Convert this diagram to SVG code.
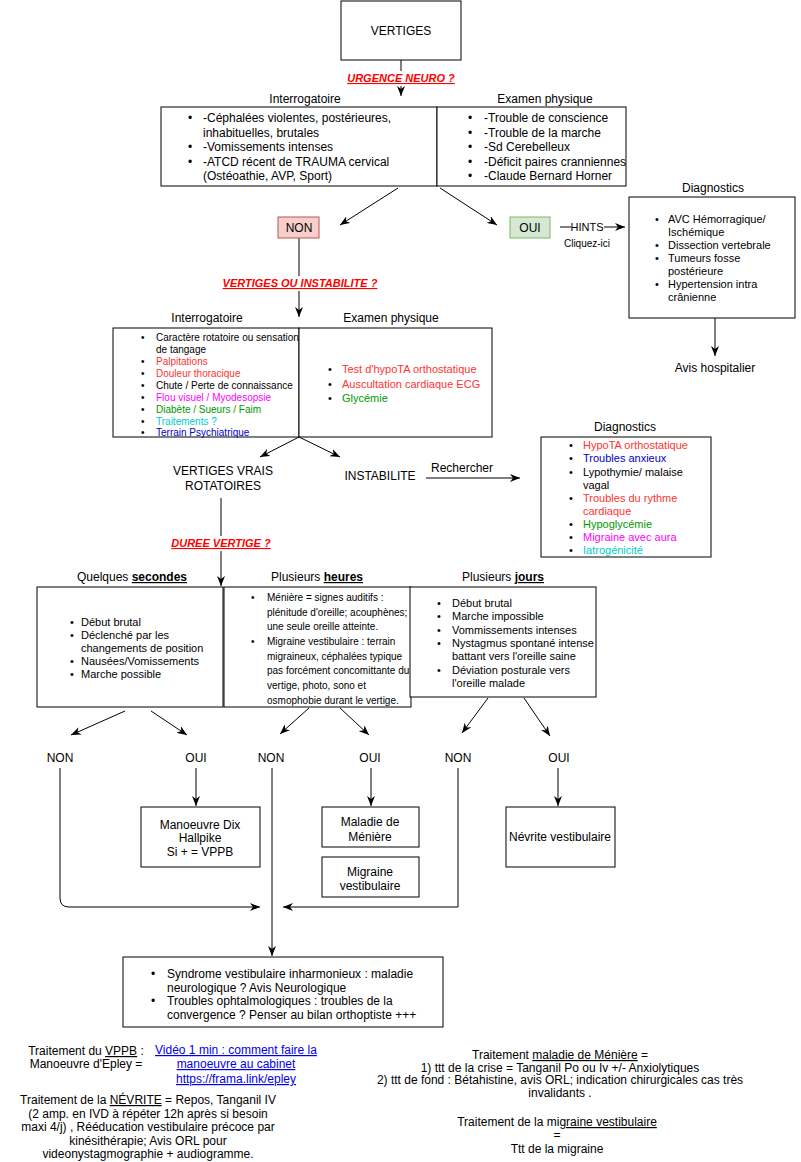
<svg xmlns="http://www.w3.org/2000/svg" width="801" height="1162" viewBox="0 0 801 1162">
<style>
text{font-family:"Liberation Sans",Arial,sans-serif;fill:#000;}
.t12{font-size:12px;}
.t11{font-size:11px;}
.t10{font-size:10px;}
.c{text-anchor:middle;}
.box{fill:#fff;stroke:#000;stroke-width:1;}
.edge{fill:none;stroke:#000;stroke-width:1;}
.q{font-size:11px;font-weight:bold;font-style:italic;fill:#FF0000;text-decoration:underline;text-anchor:middle;}
.bg{fill:#fff;stroke:none;}
.red{fill:#FF3333;}
.grn{fill:#009900;}
.mag{fill:#FF00FF;}
.cya{fill:#00CCCC;}
.blu{fill:#0000CC;}
.lnk{fill:#0000EE;text-decoration:underline;}
.u{text-decoration:underline;}
.bu{font-weight:bold;text-decoration:underline;}
</style>
<defs>
<marker id="arr" viewBox="0 0 10 8" refX="10" refY="4" markerWidth="10" markerHeight="8" markerUnits="userSpaceOnUse" orient="auto">
<path d="M0,0 L10,4 L0,8 L3,4 Z" fill="#000"/>
</marker>
</defs>

<g id="connectors">
<line class="edge" x1="401" y1="60" x2="401" y2="96" marker-end="url(#arr)"/>
<line class="edge" x1="398" y1="188" x2="340" y2="225" marker-end="url(#arr)"/>
<line class="edge" x1="440" y1="188" x2="497" y2="225" marker-end="url(#arr)"/>
<line class="edge" x1="560" y1="227" x2="625" y2="227" marker-end="url(#arr)"/>
<line class="edge" x1="715" y1="318" x2="715" y2="356" marker-end="url(#arr)"/>
<line class="edge" x1="299" y1="238" x2="299" y2="317" marker-end="url(#arr)"/>
<line class="edge" x1="299" y1="437" x2="260" y2="457" marker-end="url(#arr)"/>
<line class="edge" x1="299" y1="437" x2="340" y2="457" marker-end="url(#arr)"/>
<line class="edge" x1="426" y1="478" x2="520" y2="478" marker-end="url(#arr)"/>
<line class="edge" x1="221" y1="498" x2="221" y2="586" marker-end="url(#arr)"/>
<line class="edge" x1="125" y1="711" x2="71" y2="735" marker-end="url(#arr)"/>
<line class="edge" x1="151" y1="711" x2="187" y2="735" marker-end="url(#arr)"/>
<line class="edge" x1="309" y1="708" x2="280" y2="734" marker-end="url(#arr)"/>
<line class="edge" x1="340" y1="708" x2="369" y2="735" marker-end="url(#arr)"/>
<line class="edge" x1="488" y1="698" x2="462" y2="733" marker-end="url(#arr)"/>
<line class="edge" x1="524" y1="698" x2="550" y2="736" marker-end="url(#arr)"/>
<line class="edge" x1="196" y1="768" x2="196" y2="806" marker-end="url(#arr)"/>
<line class="edge" x1="371" y1="768" x2="371" y2="806" marker-end="url(#arr)"/>
<line class="edge" x1="558" y1="768" x2="558" y2="806" marker-end="url(#arr)"/>
<path class="edge" d="M60,768 L60,898 Q60,907 69,907 L260,907" marker-end="url(#arr)"/>
<path class="edge" d="M458,768 L458,907 L283,907" marker-end="url(#arr)"/>
<line class="edge" x1="272" y1="768" x2="272" y2="956" marker-end="url(#arr)"/>
<rect class="bg" x="346" y="71" width="110" height="15"/>
<text class="q" x="401" y="82">URGENCE NEURO ?</text>
<rect class="bg" x="221" y="276" width="158" height="15"/>
<text class="q" x="300" y="287">VERTIGES OU INSTABILITE ?</text>
<rect class="bg" x="170" y="536" width="102" height="15"/>
<text class="q" x="221" y="547">DUREE VERTIGE ?</text>
<rect class="bg" x="571" y="220" width="33" height="14"/>
<text class="t11 c" x="587" y="231">HINTS</text>
<text class="t10 c" x="587" y="247">Cliquez-ici</text>
<text class="t12 c" x="462" y="472">Rechercher</text>
</g>

<g id="vertiges">
<rect class="box" x="341" y="1" width="120" height="59"/>
<text class="t12 c" x="401" y="35">VERTIGES</text>
</g>

<g id="urgence-interrogatoire">
<text class="t12 c" x="305" y="103">Interrogatoire</text>
<rect class="box" x="161" y="107" width="276" height="79"/>
<text class="t12" x="188" y="122">•</text><text class="t12" x="203" y="122">-Céphalées violentes, postérieures,</text>
<text class="t12" x="203" y="136.5">inhabituelles, brutales</text>
<text class="t12" x="188" y="151">•</text><text class="t12" x="203" y="151">-Vomissements intenses</text>
<text class="t12" x="188" y="165.5">•</text><text class="t12" x="203" y="165.5">-ATCD récent de TRAUMA cervical</text>
<text class="t12" x="203" y="180">(Ostéoathie, AVP, Sport)</text>
</g>

<g id="urgence-examen">
<text class="t12 c" x="545" y="103">Examen physique</text>
<rect class="box" x="437" y="107" width="189" height="79"/>
<text class="t12" x="468" y="122">•</text><text class="t12" x="484" y="122">-Trouble de conscience</text>
<text class="t12" x="468" y="136.5">•</text><text class="t12" x="484" y="136.5">-Trouble de la marche</text>
<text class="t12" x="468" y="151">•</text><text class="t12" x="484" y="151">-Sd Cerebelleux</text>
<text class="t12" x="468" y="165.5">•</text><text class="t12" x="484" y="165.5">-Déficit paires cranniennes</text>
<text class="t12" x="468" y="180">•</text><text class="t12" x="484" y="180">-Claude Bernard Horner</text>
</g>

<g id="non1">
<rect x="278" y="217" width="41" height="21" fill="#f8cecc" stroke="#b85450"/>
<text class="t12 c" x="299" y="232">NON</text>
</g>

<g id="oui1">
<rect x="510" y="217" width="40" height="21" fill="#d5e8d4" stroke="#82b366"/>
<text class="t12 c" x="530" y="232">OUI</text>
</g>

<g id="diagnostics1">
<text class="t12 c" x="713" y="192">Diagnostics</text>
<rect class="box" x="629" y="197" width="166" height="121"/>
<text class="t11" x="655" y="223">•</text><text class="t11" x="668" y="223">AVC Hémorragique/</text>
<text class="t11" x="668" y="236">Ischémique</text>
<text class="t11" x="655" y="249">•</text><text class="t11" x="668" y="249">Dissection vertebrale</text>
<text class="t11" x="655" y="262">•</text><text class="t11" x="668" y="262">Tumeurs fosse</text>
<text class="t11" x="668" y="275">postérieure</text>
<text class="t11" x="655" y="288">•</text><text class="t11" x="668" y="288">Hypertension intra</text>
<text class="t11" x="668" y="301">crânienne</text>
</g>

<g id="avis-hospitalier">
<text class="t12 c" x="715" y="372">Avis hospitalier</text>
</g>

<g id="instab-interrogatoire">
<text class="t12 c" x="207" y="322">Interrogatoire</text>
<rect class="box" x="113" y="328" width="186" height="109"/>
<text class="t10" x="141" y="341">•</text><text class="t10" x="156" y="341">Caractère rotatoire ou sensation</text>
<text class="t10" x="156" y="353">de tangage</text>
<text class="t10" x="141" y="365">•</text><text class="t10 red" x="156" y="365">Palpitations</text>
<text class="t10" x="141" y="377">•</text><text class="t10 red" x="156" y="377">Douleur thoracique</text>
<text class="t10" x="141" y="389">•</text><text class="t10" x="156" y="389">Chute / Perte de connaissance</text>
<text class="t10" x="141" y="400.5">•</text><text class="t10 mag" x="156" y="400.5">Flou visuel / Myodesopsie</text>
<text class="t10" x="141" y="412.5">•</text><text class="t10 grn" x="156" y="412.5">Diabète / Sueurs / Faim</text>
<text class="t10" x="141" y="424.5">•</text><text class="t10 cya" x="156" y="424.5">Traitements ?</text>
<text class="t10" x="141" y="436">•</text><text class="t10 blu" x="156" y="436">Terrain Psychiatrique</text>
</g>

<g id="instab-examen">
<text class="t12 c" x="391" y="322">Examen physique</text>
<rect class="box" x="299" y="328" width="193" height="109"/>
<text class="t11" x="328" y="373">•</text><text class="t11 red" x="342" y="373">Test d'hypoTA orthostatique</text>
<text class="t11" x="328" y="388">•</text><text class="t11 red" x="342" y="388">Auscultation cardiaque ECG</text>
<text class="t11" x="328" y="402">•</text><text class="t11 grn" x="342" y="402">Glycémie</text>
</g>

<g id="vertiges-vrais">
<text class="t12 c" x="223" y="475">VERTIGES VRAIS</text>
<text class="t12 c" x="223" y="490">ROTATOIRES</text>
</g>

<g id="instabilite">
<text class="t12 c" x="380" y="480">INSTABILITE</text>
</g>

<g id="diagnostics2">
<text class="t12 c" x="625" y="431">Diagnostics</text>
<rect class="box" x="541" y="437" width="170" height="120"/>
<text class="t11" x="569" y="449">•</text><text class="t11 red" x="583" y="449">HypoTA orthostatique</text>
<text class="t11" x="569" y="462">•</text><text class="t11 blu" x="583" y="462">Troubles anxieux</text>
<text class="t11" x="569" y="476">•</text><text class="t11" x="583" y="476">Lypothymie/ malaise</text>
<text class="t11" x="583" y="489">vagal</text>
<text class="t11" x="569" y="502">•</text><text class="t11 red" x="583" y="502">Troubles du rythme</text>
<text class="t11 red" x="583" y="515">cardiaque</text>
<text class="t11" x="569" y="528">•</text><text class="t11 grn" x="583" y="528">Hypoglycémie</text>
<text class="t11" x="569" y="541">•</text><text class="t11 mag" x="583" y="541">Migraine avec aura</text>
<text class="t11" x="569" y="554">•</text><text class="t11 cya" x="583" y="554">Iatrogénicité</text>
</g>

<g id="secondes">
<text class="t12 c" x="132" y="581">Quelques <tspan class="bu">secondes</tspan></text>
<rect class="box" x="37" y="587" width="186" height="120"/>
<text class="t11" x="70" y="626">•</text><text class="t11" x="81" y="626">Début brutal</text>
<text class="t11" x="70" y="639">•</text><text class="t11" x="81" y="639">Déclenché par les</text>
<text class="t11" x="81" y="652">changements de position</text>
<text class="t11" x="70" y="665">•</text><text class="t11" x="81" y="665">Nausées/Vomissements</text>
<text class="t11" x="70" y="678">•</text><text class="t11" x="81" y="678">Marche possible</text>
</g>

<g id="heures">
<text class="t12 c" x="317" y="581">Plusieurs <tspan class="bu">heures</tspan></text>
<rect class="box" x="224" y="587" width="187" height="120"/>
<text class="t10" x="251" y="601">•</text><text class="t10" x="267" y="601">Ménière = signes auditifs  :</text>
<text class="t10" x="267" y="615.5">plénitude d'oreille; acouphènes;</text>
<text class="t10" x="267" y="630">une seule oreille atteinte.</text>
<text class="t10" x="251" y="645">•</text><text class="t10" x="267" y="645">Migraine vestibulaire : terrain</text>
<text class="t10" x="267" y="659.5">migraineux, céphalées typique</text>
<text class="t10" x="267" y="674">pas forcément concomittante du</text>
<text class="t10" x="267" y="689">vertige, photo, sono et</text>
<text class="t10" x="267" y="703.5">osmophobie durant le vertige.</text>
</g>

<g id="jours">
<text class="t12 c" x="503" y="581">Plusieurs <tspan class="bu">jours</tspan></text>
<rect class="box" x="410" y="587" width="186" height="110"/>
<text class="t11" x="437" y="607">•</text><text class="t11" x="452" y="607">Début brutal</text>
<text class="t11" x="437" y="620">•</text><text class="t11" x="452" y="620">Marche impossible</text>
<text class="t11" x="437" y="634">•</text><text class="t11" x="452" y="634">Vommissements intenses</text>
<text class="t11" x="437" y="647">•</text><text class="t11" x="452" y="647">Nystagmus spontané intense</text>
<text class="t11" x="452" y="660">battant vers l'oreille saine</text>
<text class="t11" x="437" y="674">•</text><text class="t11" x="452" y="674">Déviation posturale vers</text>
<text class="t11" x="452" y="687">l'oreille malade</text>
</g>

<g id="reponses">
<text class="t12 c" x="60" y="762">NON</text>
<text class="t12 c" x="196" y="762">OUI</text>
<text class="t12 c" x="271" y="762">NON</text>
<text class="t12 c" x="370" y="762">OUI</text>
<text class="t12 c" x="458" y="762">NON</text>
<text class="t12 c" x="559" y="762">OUI</text>
</g>

<g id="manoeuvre">
<rect class="box" x="141" y="807" width="119" height="60"/>
<text class="t12 c" x="200" y="829">Manoeuvre Dix</text>
<text class="t12 c" x="200" y="842">Hallpike</text>
<text class="t12 c" x="200" y="856">Si + = VPPB</text>
</g>

<g id="meniere">
<rect class="box" x="322" y="807" width="97" height="40"/>
<text class="t12 c" x="370" y="826">Maladie de</text>
<text class="t12 c" x="370" y="841">Ménière</text>
</g>

<g id="migraine">
<rect class="box" x="322" y="857" width="97" height="40"/>
<text class="t12 c" x="370" y="876">Migraine</text>
<text class="t12 c" x="370" y="890">vestibulaire</text>
</g>

<g id="nevrite">
<rect class="box" x="506" y="807" width="109" height="60"/>
<text class="t12 c" x="560" y="841">Névrite vestibulaire</text>
</g>

<g id="syndrome">
<rect class="box" x="123" y="957" width="320" height="70"/>
<text class="t12" x="151" y="978">•</text><text class="t12" x="167" y="978">Syndrome vestibulaire inharmonieux : maladie</text>
<text class="t12" x="167" y="991.5">neurologique ? Avis Neurologique</text>
<text class="t12" x="151" y="1005">•</text><text class="t12" x="167" y="1005">Troubles ophtalmologiques : troubles de la</text>
<text class="t12" x="167" y="1018.5">convergence ? Penser au bilan orthoptiste +++</text>
</g>

<g id="traitement-vppb">
<text class="t12 c" x="86" y="1055">Traitement du <tspan class="u">VPPB</tspan> :</text>
<text class="t12 c" x="86" y="1068">Manoeuvre d'Epley =</text>
<text class="t12 c lnk" x="236" y="1054">Vidéo 1 min : comment faire la</text>
<text class="t12 c lnk" x="236" y="1068">manoeuvre au cabinet</text>
<text class="t12 c lnk" x="236" y="1083">https://frama.link/epley</text>
</g>

<g id="traitement-nevrite">
<text class="t12 c" x="148" y="1104">Traitement de la <tspan class="u">NÉVRITE</tspan> = Repos, Tanganil IV</text>
<text class="t12 c" x="148" y="1117.5">(2 amp. en IVD à répéter 12h après si besoin</text>
<text class="t12 c" x="148" y="1131">maxi 4/j) , Rééducation vestibulaire précoce par</text>
<text class="t12 c" x="148" y="1144.5">kinésithérapie; Avis ORL pour</text>
<text class="t12 c" x="148" y="1158">videonystagmographie + audiogramme.</text>
</g>

<g id="traitement-meniere">
<text class="t12 c" x="560" y="1059">Traitement <tspan class="u">maladie de Ménière</tspan> =</text>
<text class="t12 c" x="560" y="1071.5">1) ttt de la crise = Tanganil Po ou Iv +/- Anxiolytiques</text>
<text class="t12 c" x="560" y="1084">2) ttt de fond :  Bétahistine, avis ORL; indication chirurgicales cas très</text>
<text class="t12 c" x="560" y="1096.5">invalidants .</text>
</g>

<g id="traitement-migraine">
<text class="t12 c" x="557" y="1126">Traitement de la mi<tspan class="u">graine vestibulaire</tspan></text>
<text class="t12 c" x="557" y="1139">=</text>
<text class="t12 c" x="557" y="1153">Ttt de la migraine</text>
</g>
</svg>
